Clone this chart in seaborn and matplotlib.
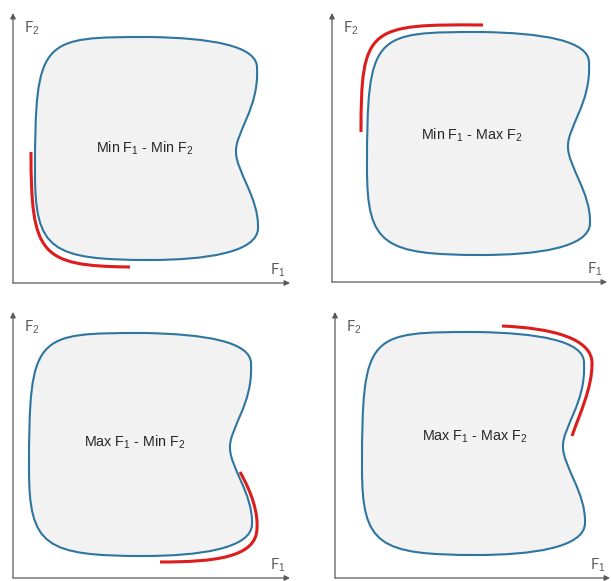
import numpy as np
import matplotlib
matplotlib.use("Agg")
import matplotlib.pyplot as plt
import matplotlib.transforms as mtransforms
from matplotlib.path import Path
from matplotlib.patches import PathPatch
import seaborn as sns

# ---------------------------------------------------------------
# Data: the feasible region outline (bezier anchors + handles) and
# the four optimal fronts (red), one per min/max combination
# ---------------------------------------------------------------
blob_x = [137, 195, 246, 244, 246, 222, 223, 223, 246, 245, 245, 190, 137, 38, 22, 22, 22, 28, 137]
blob_y = [246, 245, 238, 214, 175, 150, 131, 112, 85, 55, 30, 23, 23, 23, 33, 110, 246, 246, 246]

front_min_min_x = [18, 18, 27, 117]
front_min_min_y = [131, 28, 17, 16]
front_min_max_x = [29, 29, 36, 151]
front_min_max_y = [150, 255, 258, 257]
front_max_min_x = [227, 239, 245, 244, 244, 200, 147]
front_max_min_y = [106, 85, 65, 50, 20, 16, 16]
front_max_max_x = [167, 215, 258, 257, 257, 245, 237]
front_max_max_y = [252, 250, 240, 214, 190, 165, 142]

panel_labels = [r"Min $\mathrm{F}_1$ - Min $\mathrm{F}_2$",
                r"Min $\mathrm{F}_1$ - Max $\mathrm{F}_2$",
                r"Max $\mathrm{F}_1$ - Min $\mathrm{F}_2$",
                r"Max $\mathrm{F}_1$ - Max $\mathrm{F}_2$"]
axis_x_label = r"F$_1$"
axis_y_label = r"F$_2$"

fronts = [(front_min_min_x, front_min_min_y),
          (front_min_max_x, front_min_max_y),
          (front_max_min_x, front_max_min_y),
          (front_max_max_x, front_max_max_y)]

# ---------------------------------------------------------------
# Layout (pixels, y pointing up)
# ---------------------------------------------------------------
origins = [(13, 298), (332, 299), (13, 3), (335, 3)]
blob_shift = [(0, 0), (13, 4), (-6, -1), (5, 0)]
label_pos = [(132, 135), (140, 147), (122, 136), (140, 141)]
axis_len = [(277, 270), (275, 269), (277, 266), (275, 266)]

BLUE = "#2e75a0"
RED = "#dd1c1c"
FILL = "#f2f2f2"
GREY = "#595959"

sns.set_theme(style="white")
plt.rcParams["mathtext.fontset"] = "custom"
plt.rcParams["mathtext.rm"] = "Liberation Sans"
plt.rcParams["mathtext.it"] = "Liberation Sans"


def bezier_path(xs, ys, closed=False):
    verts = list(zip(xs, ys))
    codes = [Path.MOVETO] + [Path.CURVE4] * (len(verts) - 1)
    if closed:
        verts.append(verts[0])
        codes.append(Path.CLOSEPOLY)
    return Path(verts, codes)


fig = plt.figure(figsize=(6.11, 5.81), dpi=100)
ax = fig.add_axes([0, 0, 1, 1])
ax.set_xlim(0, 611)
ax.set_ylim(0, 581)
ax.axis("off")

for i in range(4):
    ox, oy = origins[i]
    tr = mtransforms.Affine2D().translate(ox, oy) + ax.transData

    # axes with arrow heads
    lx, ly = axis_len[i]
    ax.annotate("", xy=(lx, 0), xytext=(0, 0), xycoords=tr, textcoords=tr,
                arrowprops=dict(arrowstyle="-|>", color=GREY, lw=0.9,
                                mutation_scale=8, shrinkA=0, shrinkB=0))
    ax.annotate("", xy=(0, ly), xytext=(0, 0), xycoords=tr, textcoords=tr,
                arrowprops=dict(arrowstyle="-|>", color=GREY, lw=0.9,
                                mutation_scale=8, shrinkA=0, shrinkB=0))
    ax.text(lx - 12, 13, axis_x_label, transform=tr, ha="center", va="center",
            fontsize=10.5, color=GREY, family="Lato")
    ax.text(19, ly - 15, axis_y_label, transform=tr, ha="center", va="center",
            fontsize=10.5, color=GREY, family="Lato")

    # feasible region
    dx, dy = blob_shift[i]
    btr = mtransforms.Affine2D().translate(ox + dx, oy + dy) + ax.transData
    ax.add_patch(PathPatch(bezier_path(blob_x, blob_y, closed=True),
                           facecolor=FILL, edgecolor=BLUE, lw=1.5, transform=btr))

    # optimal front
    fx, fy = fronts[i]
    ax.add_patch(PathPatch(bezier_path(fx, fy), facecolor="none",
                           edgecolor=RED, lw=2.2, capstyle="butt", transform=tr))

    tx, ty = label_pos[i]
    ax.text(tx, ty, panel_labels[i], transform=tr, ha="center", va="center",
            fontsize=10.3, color="#262626", family="Liberation Sans")

fig.savefig("out.png", dpi=100)
